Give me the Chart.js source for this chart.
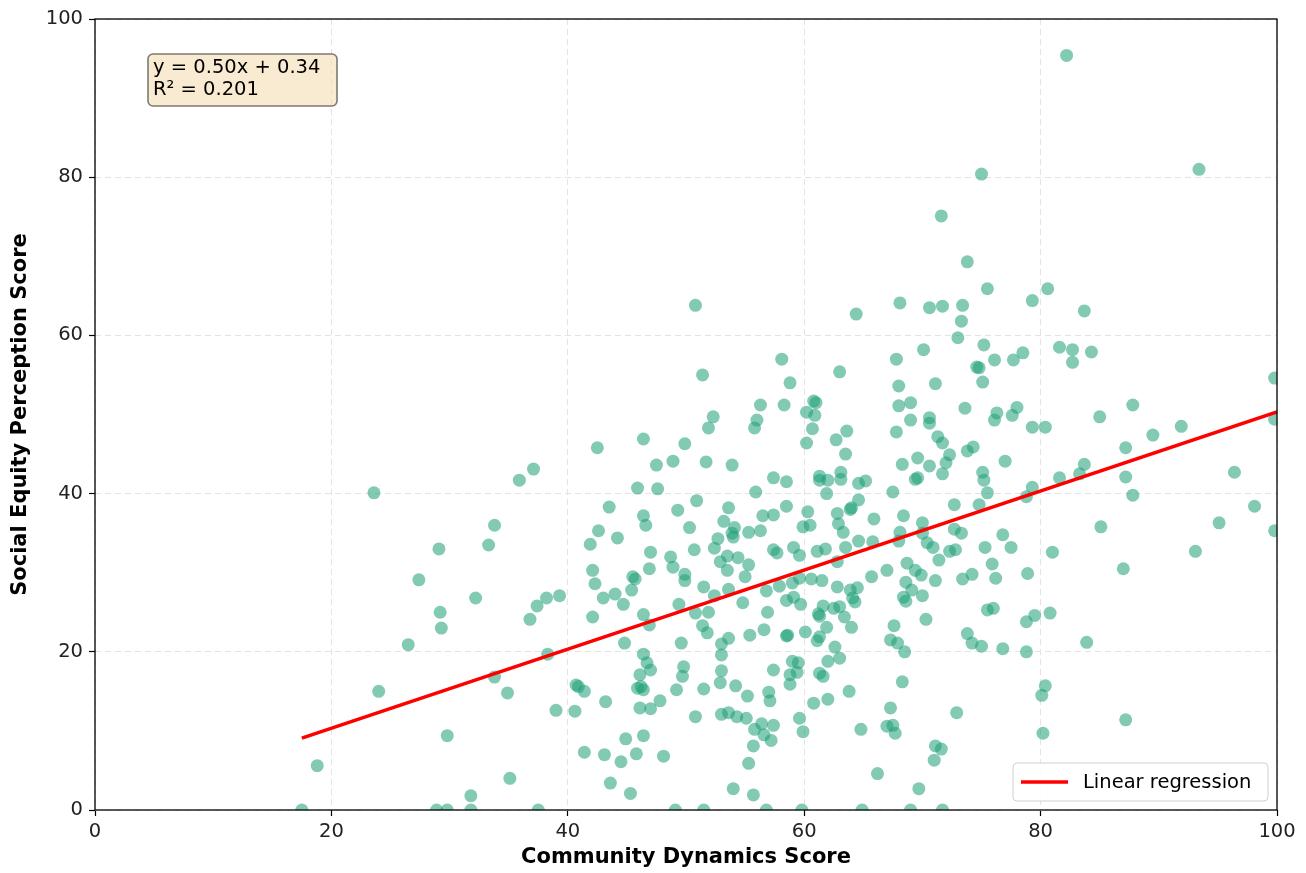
<!DOCTYPE html>
<html lang="en">
<head>
<meta charset="UTF-8">
<title>Community Dynamics vs Social Equity Perception</title>
<script src="https://cdn.jsdelivr.net/npm/chart.js"></script>
<style>
  body { margin: 0; background: #fff; }
  #wrap { width: 1306px; height: 873px; }
</style>
</head>
<body>
<div id="wrap"><canvas id="chart" width="1306" height="873"></canvas></div>
<script>
// values, one entry per respondent
const communityScore = [
  17.5, 18.8, 23.6, 24.0, 26.5, 27.4, 29.1, 29.2, 29.3, 28.9, 29.8, 29.8, 31.8, 31.8, 32.2, 33.3, 33.8, 33.8, 34.9, 35.1,
  35.9, 36.8, 37.1, 37.4, 37.5, 38.2, 38.3, 39.0, 39.3,
  50.8, 51.4, 56.3, 56.0, 55.8, 52.3, 51.9, 42.5, 46.4, 49.9, 48.9, 47.5, 51.7, 53.9, 57.4, 45.9, 47.6, 55.9, 50.9, 43.5,
  53.6, 49.3, 46.4, 46.6, 56.5, 57.4, 53.2, 54.1, 53.9, 54.0, 55.3, 56.3, 50.3, 42.6, 44.2, 41.9, 52.7, 52.4, 50.7, 47.0,
  48.7, 53.5, 54.4, 57.4,
  48.9, 52.9, 53.5, 55.3, 42.1, 42.3, 45.5, 45.7, 46.9, 49.9, 49.9, 55.0, 51.5, 53.6, 56.8, 45.4, 44.0, 43.0, 44.7, 54.8,
  49.4, 52.4, 50.8, 51.9, 56.9, 46.4, 46.9, 42.1, 51.4, 51.8, 53.6, 53.0, 55.4, 56.6, 44.8, 49.6, 53.0, 46.4, 46.7, 47.0,
  46.1, 49.8, 49.7, 53.0, 52.9, 54.2, 57.4, 40.7, 41.4, 40.9, 45.9, 46.4, 46.2, 49.2, 51.5, 55.2, 57.0, 57.1, 43.2, 47.8,
  47.0, 46.1, 40.6, 50.8, 53.0, 53.6, 54.3, 55.1, 55.8, 56.4, 56.6, 57.2, 57.4, 44.9, 46.4, 41.4, 43.1, 44.5, 45.8, 48.1,
  55.7, 55.3, 43.6, 45.3, 54.0, 55.7, 49.1, 51.5, 56.8,
  64.4, 68.1, 70.6, 71.7, 73.4, 73.3, 73.0, 70.1, 75.2, 76.1, 77.7, 74.6, 74.8, 75.1, 58.1, 63.0, 67.8, 58.8, 68.0, 71.1,
  58.3, 60.8, 61.0, 60.2, 60.9, 68.0, 69.0, 73.6, 76.1, 76.3, 77.6, 78.0, 60.7, 63.6, 69.0, 70.6, 70.6, 67.8, 60.2, 62.7,
  63.5, 71.3, 71.7, 73.8, 74.3, 72.3, 72.0, 77.0, 69.6, 68.3, 70.6, 71.7, 75.1, 75.2, 58.5, 61.3, 61.3, 62.0, 63.1, 63.1,
  64.6, 65.2, 69.4, 69.6, 67.5, 61.9, 75.5, 58.5, 60.3, 64.6, 63.9, 64.0, 62.8, 72.7, 74.8, 65.9, 68.4, 59.9, 60.5, 62.9,
  63.3, 70.0, 68.1, 72.7, 73.3, 76.8, 70.0, 68.0, 70.4, 70.9, 57.7, 59.1, 59.6, 61.1, 61.8, 63.5, 64.6, 65.8, 72.3, 72.8,
  75.3, 77.5,
  62.8, 68.7, 71.4, 75.9, 76.2, 74.2, 73.4, 71.1, 67.0, 65.7, 69.4, 69.9, 68.6, 69.1, 68.4, 68.6, 70.0, 60.6, 61.5, 59.6,
  59.0, 57.9, 62.8, 63.9, 64.5, 64.1, 64.3, 58.5, 59.1, 59.7, 61.6, 62.5, 63.0, 63.4, 61.2, 61.3, 70.3, 75.5, 76.0, 61.9,
  64.0, 67.6, 60.1, 58.5, 58.6, 61.3, 61.1, 67.3, 67.9, 68.5, 62.6, 63.0, 62.0, 73.8, 74.2, 75.0, 76.8, 59.0, 59.5, 59.4,
  58.8, 58.8, 61.3, 61.6, 68.3, 63.8, 60.8, 62.0, 67.3, 72.9, 59.6, 59.9, 64.8, 67.0, 67.5, 67.7, 71.1, 71.6, 71.0, 66.2,
  69.7, 59.8, 64.9, 69.0, 71.7,
  79.3, 83.7, 78.5, 81.6, 82.7, 82.7, 84.3, 99.8, 79.3, 80.4, 85.0, 87.8, 91.9, 99.8, 89.5, 87.2, 83.7, 83.3, 81.6, 87.2,
  87.8, 79.3, 78.8, 96.4, 98.1, 85.1, 95.1, 99.8, 81.0, 93.1,
  78.9, 87.0, 79.5, 78.8, 80.8, 83.9, 78.8, 80.4, 80.1, 87.2, 80.2,
  75.0, 71.6, 73.8, 75.5, 82.2, 93.4, 80.6
];
const equityScore = [
  0.0, 5.6, 40.1, 15.0, 20.9, 29.1, 33.0, 25.0, 23.0, 0.0, 0.0, 9.4, 1.8, 0.0, 26.8, 33.5, 36.0, 16.8, 14.8, 4.0,
  41.7, 24.1, 43.1, 25.8, 0.0, 26.8, 19.7, 12.6, 27.1,
  63.8, 55.0, 51.2, 49.3, 48.3, 49.7, 48.3, 45.8, 46.9, 46.3, 44.1, 43.6, 44.0, 43.6, 42.0, 40.7, 40.6, 40.2, 39.1, 38.3,
  38.2, 37.9, 37.2, 36.0, 37.2, 37.3, 36.5, 35.7, 35.0, 34.5, 35.1, 35.3, 35.7, 35.3, 34.4, 33.6, 34.3, 33.1, 32.9, 32.6,
  32.0, 32.1, 31.9, 32.9,
  30.7, 31.4, 30.3, 31.0, 30.3, 28.6, 29.5, 29.2, 30.5, 29.8, 29.0, 29.5, 28.2, 27.9, 27.7, 27.8, 27.3, 26.8, 26.0, 26.2,
  26.0, 27.1, 24.9, 25.0, 25.0, 24.7, 23.4, 24.4, 23.3, 22.4, 21.7, 21.0, 22.1, 22.8, 21.1, 21.1, 19.6, 19.7, 18.6, 17.7,
  17.1, 18.1, 16.9, 17.6, 16.1, 15.7, 17.7, 15.8, 15.0, 15.6, 15.4, 15.2, 15.6, 15.2, 15.3, 14.4, 14.9, 13.8, 13.7, 13.8,
  12.8, 12.9, 12.5, 11.8, 12.1, 12.3, 11.8, 11.6, 10.2, 10.9, 9.5, 8.8, 10.7, 9.0, 9.4, 7.3, 7.0, 6.1, 7.1, 6.8,
  8.1, 5.9, 3.4, 2.1, 2.7, 1.9, 0.0, 0.0, 0.0,
  62.7, 64.1, 63.5, 63.7, 63.8, 61.8, 59.7, 58.2, 58.8, 56.9, 56.9, 56.0, 55.9, 54.1, 57.0, 55.4, 57.0, 54.0, 53.6, 53.9,
  51.2, 51.7, 51.5, 50.3, 49.9, 51.1, 51.5, 50.8, 49.3, 50.2, 49.9, 50.9, 48.2, 47.9, 49.3, 49.6, 48.9, 47.8, 46.4, 46.8,
  45.0, 47.2, 46.4, 45.4, 45.9, 44.9, 43.9, 44.1, 44.5, 43.7, 43.5, 42.5, 42.7, 41.7, 41.5, 42.2, 41.7, 41.7, 42.7, 41.8,
  41.3, 41.6, 41.8, 42.0, 40.2, 40.0, 40.1, 38.4, 37.7, 39.2, 38.0, 38.2, 37.5, 38.6, 38.6, 36.8, 37.2, 35.8, 36.0, 36.2,
  35.1, 36.3, 35.1, 35.5, 35.0, 34.8, 35.0, 34.0, 33.8, 33.2, 32.5, 33.2, 32.2, 32.7, 33.0, 33.2, 34.0, 33.9, 32.7, 32.9,
  33.2, 33.2,
  31.4, 31.2, 31.6, 31.1, 29.3, 29.8, 29.2, 29.0, 30.3, 29.5, 30.3, 29.7, 28.8, 27.8, 26.9, 26.4, 27.1, 29.2, 29.0, 29.3,
  28.7, 28.3, 28.2, 27.8, 28.1, 26.8, 26.3, 26.5, 26.9, 26.0, 25.8, 25.5, 25.7, 24.4, 24.8, 24.5, 24.1, 25.3, 25.5, 23.1,
  23.1, 23.3, 22.5, 22.0, 22.1, 21.9, 21.4, 21.5, 21.1, 20.0, 20.6, 19.2, 18.8, 22.3, 21.1, 20.7, 20.4, 18.8, 18.6, 17.4,
  17.1, 15.9, 17.3, 16.9, 16.2, 15.0, 13.5, 14.0, 12.9, 12.3, 11.6, 9.9, 10.2, 10.6, 10.7, 9.7, 8.1, 7.7, 6.3, 4.6,
  2.7, 0.0, 0.0, 0.0, 0.0,
  64.4, 63.1, 57.8, 58.5, 58.2, 56.6, 57.9, 54.6, 48.4, 48.4, 49.7, 51.2, 48.5, 49.4, 47.4, 45.8, 43.7, 42.5, 42.0, 42.1,
  39.8, 40.8, 39.6, 42.7, 38.4, 35.8, 36.3, 35.3, 32.6, 32.7,
  29.9, 30.5, 24.6, 23.8, 24.9, 21.2, 20.0, 15.7, 14.5, 11.4, 9.7,
  80.4, 75.1, 69.3, 65.9, 95.4, 81.0, 65.9
];
const axisTicks = [0, 20, 40, 60, 80, 100];
const fitSlope = 0.50;
const fitIntercept = 0.34;
const fitR2 = 0.201;

const points = communityScore.map((x, i) => ({ x: x, y: equityScore[i] }));
const xStart = Math.min(...communityScore);
const xEnd = axisTicks[axisTicks.length - 1];
const fitLine = [
  { x: xStart, y: fitSlope * xStart + fitIntercept },
  { x: xEnd, y: fitSlope * xEnd + fitIntercept }
];

const FONT = "'DejaVu Sans', sans-serif";

// frame, equation box and legend, drawn on top like the original
const decor = {
  id: 'decor',
  afterDraw(chart) {
    const { ctx, chartArea: a } = chart;
    ctx.save();
    ctx.strokeStyle = '#000';
    ctx.lineWidth = 1.3;
    ctx.strokeRect(a.left, a.top, a.right - a.left, a.bottom - a.top);

    // equation box
    ctx.beginPath();
    ctx.roundRect(a.left + 53, a.top + 35, 189, 52, 5);
    ctx.fillStyle = 'rgba(245, 222, 179, 0.6)';
    ctx.fill();
    ctx.strokeStyle = '#7d7a70';
    ctx.lineWidth = 1.6;
    ctx.stroke();
    ctx.fillStyle = '#000';
    ctx.font = '19.5px ' + FONT;
    ctx.textBaseline = 'middle';
    ctx.textAlign = 'left';
    ctx.fillText('y = ' + fitSlope.toFixed(2) + 'x + ' + fitIntercept.toFixed(2), a.left + 58, a.top + 49);
    ctx.fillText('R\u00b2 = ' + fitR2.toFixed(3), a.left + 58, a.top + 71);

    // legend
    const lw = 255, lh = 38;
    const lx = a.right - 9 - lw, ly = a.bottom - 9 - lh;
    ctx.beginPath();
    ctx.roundRect(lx, ly, lw, lh, 4);
    ctx.fillStyle = 'rgba(255,255,255,0.85)';
    ctx.fill();
    ctx.strokeStyle = '#d0d0d0';
    ctx.lineWidth = 1;
    ctx.stroke();
    ctx.beginPath();
    ctx.moveTo(lx + 8, ly + lh / 2);
    ctx.lineTo(lx + 55, ly + lh / 2);
    ctx.strokeStyle = '#ff0000';
    ctx.lineWidth = 3.5;
    ctx.stroke();
    ctx.fillStyle = '#000';
    ctx.fillText('Linear regression', lx + 70, ly + lh / 2 + 1);
    ctx.restore();
  }
};

const gridOpts = {
  color: '#e3e3e3',
  lineWidth: 1,
  drawTicks: true,
  tickLength: 6,
  tickColor: '#000',
  tickWidth: 1.2,
  tickBorderDash: []
};

new Chart(document.getElementById('chart'), {
  data: {
    datasets: [
      {
        type: 'line',
        label: 'Linear regression',
        data: fitLine,
        borderColor: '#ff0000',
        borderWidth: 3.5,
        pointRadius: 0,
        fill: false,
        order: 0
      },
      {
        type: 'scatter',
        label: 'Respondents',
        data: points,
        backgroundColor: 'rgba(27, 158, 119, 0.55)',
        borderWidth: 0,
        pointRadius: 6.5,
        order: 1
      }
    ]
  },
  options: {
    responsive: false,
    animation: false,
    devicePixelRatio: 1,
    layout: { padding: { left: 0, top: 19, right: 29, bottom: 0 } },
    plugins: {
      legend: { display: false },
      tooltip: { enabled: false }
    },
    scales: {
      x: {
        type: 'linear',
        min: 0,
        max: 100,
        afterBuildTicks: s => { s.ticks = axisTicks.map(v => ({ value: v })); },
        afterFit: s => { s.height = 63; },
        grid: gridOpts,
        border: { display: false, dash: [6, 4] },
        ticks: { color: '#222', padding: 4, font: { family: FONT, size: 19.5 } },
        title: {
          display: true,
          text: 'Community Dynamics Score',
          color: '#000',
          font: { family: FONT, size: 21, weight: 'bold' },
          padding: { top: 0, bottom: 3 }
        }
      },
      y: {
        type: 'linear',
        min: 0,
        max: 100,
        afterBuildTicks: s => { s.ticks = axisTicks.map(v => ({ value: v })); },
        afterFit: s => { s.width = 95; },
        grid: gridOpts,
        border: { display: false, dash: [6, 4] },
        ticks: { color: '#222', padding: 6, font: { family: FONT, size: 19.5 } },
        title: {
          display: true,
          text: 'Social Equity Perception Score',
          color: '#000',
          font: { family: FONT, size: 21, weight: 'bold' },
          padding: { top: 8, bottom: 0 }
        }
      }
    }
  },
  plugins: [decor]
});
</script>
</body>
</html>
